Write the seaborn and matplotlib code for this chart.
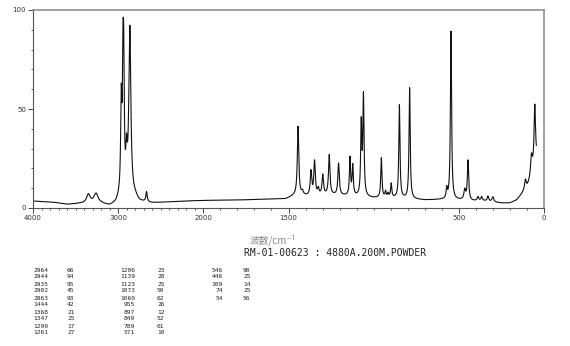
import numpy as np
import pandas as pd
import matplotlib
matplotlib.use("Agg")
import matplotlib.pyplot as plt
import seaborn as sns
from matplotlib.ticker import FixedLocator, NullFormatter

# ---------------- data ----------------
# peak table printed under the chart (wavenumber, relative intensity)
table_wn = [2964, 2944, 2935, 2902, 2863, 1444, 1368, 1347, 1299, 1261,
            1206, 1139, 1123, 1073, 1060, 955, 897, 849, 789, 571,
            546, 446, 109, 74, 54]
table_int = [66, 94, 95, 45, 93, 42, 21, 25, 17, 27,
             23, 28, 25, 50, 62, 26, 12, 52, 61, 10,
             90, 25, 14, 25, 56]

# band centres / amplitudes above baseline / widths (cm-1) estimated from the trace
band_pos = [3350, 3260, 2964, 2944, 2935, 2902, 2863, 2667,
            1444, 1418, 1368, 1347, 1325, 1299, 1261, 1206, 1139, 1123,
            1073, 1060, 955, 930, 915, 897, 849, 789, 571, 546, 465, 446,
            388, 366, 329, 300, 109, 74, 54]
band_amp = [4.5, 5.0, 45, 55, 55, 18, 85, 5.0,
            35, 2.0, 12, 17, 3.0, 10, 20, 16, 19, 15,
            36, 50, 20, 3.0, 2.0, 7.0, 47, 56, 5.0, 85, 5.0, 20,
            2.0, 2.0, 2.5, 2.5, 5.0, 10, 30]
band_fwhm = [50, 60, 16, 16, 16, 20, 28, 18,
             10, 12, 10, 10, 10, 10, 10, 10, 8, 8,
             8, 8, 8, 8, 8, 8, 8, 8, 8, 8, 12, 9,
             10, 10, 10, 12, 12, 12, 10]

# baseline level read at anchor wavenumbers
base_wn = [4000, 3900, 3750, 3600, 3450, 3200, 3100, 3030, 2990, 2800, 2750, 2600,
           2400, 2200, 2000, 1800, 1600, 1520, 1470, 1400, 1250, 1150, 1000,
           900, 800, 700, 600, 500, 420, 350, 250, 200, 160, 140, 120, 100,
           80, 60, 45]
base_val = [3.5, 3.2, 2.8, 1.8, 2.2, 2.0, 1.0, 2.0, 4.0, 5.0, 3.0, 2.5,
            3.0, 3.5, 3.8, 4.0, 4.5, 4.5, 6.0, 6.0, 6.5, 6.0, 5.0,
            5.0, 4.5, 4.0, 4.2, 4.0, 3.5, 3.5, 2.5, 2.5, 4.0, 6.0, 8.0, 10.0,
            14.0, 20.0, 24.0]

x_major = [4000, 3000, 2000, 1500, 500, 0]
y_major = [0, 50, 100]

# ---------------- build the trace ----------------
wn = np.arange(4000, 44, -1.0)
bw = np.array(base_wn[::-1], float)
bv = np.array(base_val[::-1], float)
inten = np.interp(wn, bw, bv)
for c, a, w in zip(band_pos, band_amp, band_fwhm):
    inten = inten + a / (1.0 + ((wn - c) / (w / 2.0)) ** 2)
df = pd.DataFrame({"wn": wn, "I": inten})

# ---------------- figure ----------------
sns.set_style("white")
plt.rcParams["font.family"] = ["DejaVu Sans"]
fig = plt.figure(figsize=(5.70, 3.46), dpi=100)
W, H = 570.0, 346.0
ax = fig.add_axes([33 / W, 1 - 208 / H, (544 - 33) / W, (208 - 10) / H])


def fwd(x):
    x = np.asarray(x, float)
    return np.where(x <= 2000, x, 2000 + (x - 2000) / 2.0)


def inv(y):
    y = np.asarray(y, float)
    return np.where(y <= 2000, y, 2000 + (y - 2000) * 2.0)


ax.set_xscale("function", functions=(fwd, inv))
sns.lineplot(data=df, x="wn", y="I", ax=ax, color="#111111", linewidth=0.8,
             estimator=None, sort=False)
ax.set_xlim(4000, 0)
ax.set_ylim(0, 100)
ax.set_xlabel("")
ax.set_ylabel("")

ax.xaxis.set_major_locator(FixedLocator(x_major))
ax.set_xticklabels([str(v) for v in x_major])
ax.xaxis.set_minor_locator(FixedLocator([v for v in range(0, 4001, 100) if v not in x_major]))
ax.xaxis.set_minor_formatter(NullFormatter())
ax.yaxis.set_major_locator(FixedLocator(y_major))
ax.set_yticklabels([str(v) for v in y_major])
ax.yaxis.set_minor_locator(FixedLocator([v for v in range(0, 101, 10) if v not in y_major]))
ax.yaxis.set_minor_formatter(NullFormatter())
ax.tick_params(which="major", direction="out", length=3.5, width=0.7, color="#444444",
               labelsize=5, labelcolor="#333333", pad=1.5)
ax.tick_params(which="minor", direction="out", length=1.6, width=0.6, color="#444444")
ax.tick_params(axis="x", which="both", bottom=True, top=False)
ax.tick_params(axis="y", which="both", left=True, right=False)
for side in ["left", "bottom"]:
    ax.spines[side].set_color("#555555")
    ax.spines[side].set_linewidth(0.8)
for side in ["top", "right"]:
    ax.spines[side].set_color("#888888")
    ax.spines[side].set_linewidth(1.1)

# axis title and sample line
fig.text(273 / W, 1 - 240 / H, "波数/cm⁻¹", ha="center", va="center",
         fontsize=7, color="#888888", family=["Noto Sans CJK JP", "DejaVu Sans"])
fig.text(335 / W, 1 - 253 / H, "RM-01-00623 : 4880A.200M.POWDER", ha="center",
         va="center", fontsize=7, color="#222222", family="DejaVu Sans Mono")

# peak table
col_wn_x = [48, 135, 223]
col_i_x = [67, 157, 243]
for i, (w_, v_) in enumerate(zip(table_wn, table_int)):
    col, row = divmod(i, 10)
    y = 1 - (270 + 7 * row) / H
    fig.text(col_wn_x[col] / W, y, str(w_), ha="right", va="center", fontsize=4.5,
             color="#222222", family="DejaVu Sans Mono")
    fig.text(col_i_x[col] / W, y, str(v_), ha="left", va="center", fontsize=4.5,
             color="#222222", family="DejaVu Sans Mono")

fig.savefig("out.png", dpi=100)
